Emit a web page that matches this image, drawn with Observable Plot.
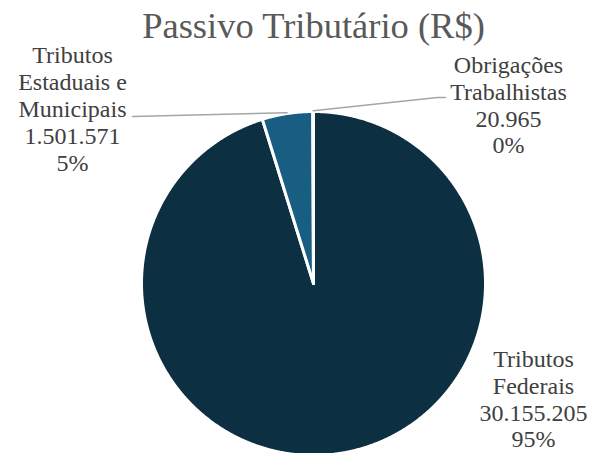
<!DOCTYPE html>
<html><head><meta charset="utf-8">
<script src="https://cdn.jsdelivr.net/npm/d3@7"></script>
<script src="https://cdn.jsdelivr.net/npm/@observablehq/plot@0.6"></script>
<style>body{margin:0;background:#fff;overflow:hidden} svg{display:block}</style>
</head><body><div id="chart"></div>
<script>
// ---- data ----
const categories = ["Tributos Federais", "Tributos Estaduais e Municipais", "Obrigações Trabalhistas"];
const labelLines = ["Tributos\nFederais", "Tributos\nEstaduais e\nMunicipais", "Obrigações\nTrabalhistas"];
const values = [30155205, 1501571, 20965];
const colors = ["#0c2f42", "#175e82", "#3a86b0"];
const title = "Passivo Tributário (R$)";

// ---- layout (pixel -> unit helpers) ----
const CX = 313, CY = 283, R = 172;
const ux = X => (X - CX) / R, uy = Y => (CY - Y) / R;
const labelPos = [[533, 398], [72, 108], [508, 104]];
const leaderStart = [null, [[132, 116]], [[445, 97], [437, 97]]];
const FONT = "Liberation Serif";

const total = d3.sum(values);
const arcs = d3.pie().sort(null).value(d => d)(values);
const fmt = d3.formatLocale({decimal: ",", thousands: ".", grouping: [3], currency: ["R$", ""]}).format(",d");

const slices = [];
arcs.forEach((a, i) => {
  const n = Math.max(2, Math.ceil((a.endAngle - a.startAngle) / 0.005));
  slices.push({k: i, x: 0, y: 0});
  for (let j = 0; j <= n; j++) {
    const t = a.startAngle + (a.endAngle - a.startAngle) * j / n;
    slices.push({k: i, x: Math.sin(t), y: Math.cos(t)});
  }
  slices.push({k: i, x: 0, y: 0});
});

const leaders = [];
arcs.forEach((a, i) => {
  if (!leaderStart[i]) return;
  const m = (a.startAngle + a.endAngle) / 2;
  leaderStart[i].forEach(([X, Y]) => leaders.push({k: i, x: ux(X), y: uy(Y)}));
  leaders.push({k: i, x: Math.sin(m) * 1.005, y: Math.cos(m) * 1.005});
});

const labels = arcs.map((a, i) => ({
  x: ux(labelPos[i][0]), y: uy(labelPos[i][1]),
  text: `${labelLines[i]}\n${fmt(values[i])}\n${Math.round(values[i] / total * 100)}%`
}));

const chart = Plot.plot({
  width: 594, height: 453,
  marginTop: 0, marginRight: 0, marginBottom: 0, marginLeft: 0,
  x: {domain: [-1, 1], range: [CX - R, CX + R], axis: null},
  y: {domain: [-1, 1], range: [CY + R, CY - R], axis: null},
  color: {type: "ordinal", domain: [0, 1, 2], range: colors},
  marks: [
    Plot.line(slices, {x: "x", y: "y", z: "k", fill: "k", stroke: "#fff", strokeWidth: 3, strokeLinejoin: "round", curve: "linear"}),
    Plot.line(leaders, {x: "x", y: "y", z: "k", stroke: "#a6a6a6", strokeWidth: 1.5}),
    Plot.text(labels, {x: "x", y: "y", text: "text", textAnchor: "middle", lineAnchor: "middle", lineHeight: 1.12, fontSize: 24, fill: "#404040", fontFamily: FONT}),
    Plot.text([title], {x: () => 0, frameAnchor: "top", dy: 12, fontSize: 36.5, fill: "#595959", textAnchor: "middle", fontFamily: FONT})
  ]
});
document.getElementById("chart").appendChild(chart);
</script>
</body></html>
